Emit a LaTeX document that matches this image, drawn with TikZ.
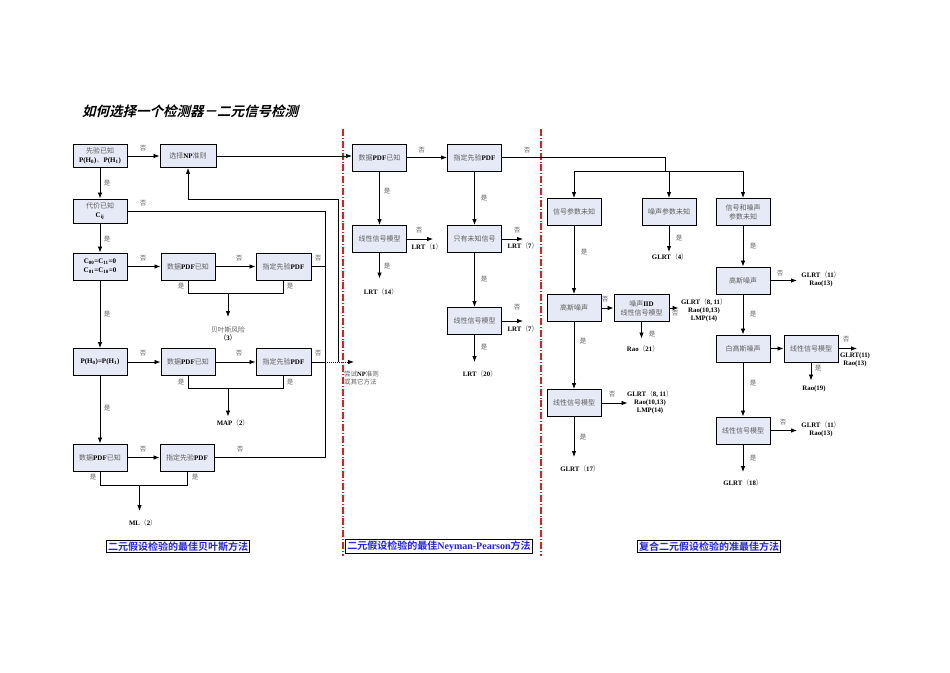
\documentclass[tikz,border=0pt]{standalone}
\usepackage{fontspec}
\setmainfont{Noto Sans CJK SC}[BoldFont={Noto Sans CJK SC Bold}]
\newfontfamily\lat{Liberation Serif}
\newfontfamily\ttlfont{Noto Sans CJK SC Bold}[FakeSlant=0.25]
\usetikzlibrary{arrows.meta}
\definecolor{boxfill}{RGB}{230,234,246}
\definecolor{txtgray}{RGB}{95,95,95}
\definecolor{lblue}{RGB}{35,35,225}
\definecolor{divred}{RGB}{225,30,30}
\newcommand\B[1]{{\lat\bfseries\color{black}#1}}
\newcommand\BL[1]{{\lat\bfseries #1}}
\begin{document}
\begin{tikzpicture}[x=1pt,y=-1pt,
 box/.style={draw=black, line width=0.9pt, fill=boxfill, minimum width=54pt, minimum height=27pt, inner sep=0pt, align=center, font=\fontsize{7}{9}\selectfont, text=txtgray},
 yn/.style={font=\fontsize{6.5}{7.5}\selectfont, text=txtgray, inner sep=0pt},
 res/.style={font=\fontsize{6.8}{8}\selectfont, inner sep=0pt, align=center},
 ln/.style={line width=0.8pt, draw=black},
 arr/.style={ln, -{Latex[length=6pt,width=4.5pt]}},
 divider/.style={draw=divred, line width=1.2pt, dash pattern=on 7pt off 2pt on 0.8pt off 2pt},
 method/.style={draw=black, line width=0.8pt, inner sep=1.5pt, text=lblue, font=\fontsize{10}{11}\selectfont\bfseries}
]
\fill[white] (0,0) rectangle (950,672);
\useasboundingbox (0,0) rectangle (950,672);

% title
\node[anchor=west, inner sep=0pt, font=\ttlfont\fontsize{13.5}{15}\selectfont] (title) at (82,111) {如何选择一个检测器－二元信号检测};

% dividers
\draw[divider] (343,129) -- (343,556);
\draw[divider] (541,129) -- (541,556);

% ---------------- left column ----------------
\node[box, minimum height=23pt] (pri) at (100,156) {先验已知\\\B{P(H\textsubscript{0})}、\B{P(H\textsubscript{1})}};
\node[box, minimum width=56pt, minimum height=23pt] (np) at (188,156) {选择\B{NP}准则};
\node[box, minimum height=24pt] (cost) at (100,211) {代价已知\\\B{C\textsubscript{ij}}};
\node[box] (c00) at (100,266.5) {\B{C\textsubscript{00}=C\textsubscript{11}=0}\\\B{C\textsubscript{01}=C\textsubscript{10}=0}};
\node[box] (pdf1) at (188,266.5) {数据\B{PDF}已知};
\node[box, minimum width=55pt] (spec1) at (283.5,266.5) {指定先验\B{PDF}};
\node[box] (eq) at (100,362) {\B{P(H\textsubscript{0})=P(H\textsubscript{1})}};
\node[box] (pdf2) at (188,362) {数据\B{PDF}已知};
\node[box, minimum width=55pt] (spec2) at (283.5,362) {指定先验\B{PDF}};
\node[box] (pdf3) at (100,457.5) {数据\B{PDF}已知};
\node[box] (spec3) at (187,457.5) {指定先验\B{PDF}};

\node[res] (bayes) at (228,333.5) {\color{txtgray}贝叶斯风险\\（\B{3}）};
\node[res] (map) at (233,422.7) {\B{MAP}\color{txtgray}（\B{2}）};
\node[res] (ml) at (143,523) {\B{ML}\color{txtgray}（\B{2}）};
\node[res, align=left, anchor=north west, text=txtgray, font=\fontsize{6.5}{8}\selectfont] (try) at (344,371) {尝试\B{NP}准则\\或其它方法};

\coordinate (bT) at (325,211);
\coordinate (bB) at (325,457.5);
\coordinate (r2a) at (325,362);
\coordinate (r2b) at (338,362);
\coordinate (up1) at (338,199);
\coordinate (up2) at (188,199);
\coordinate (tryNP) at (354,362);
\coordinate (j1) at (228,292.5);
\coordinate (j1e) at (228,317);
\coordinate (j2) at (228,388);
\coordinate (j2e) at (228,416.5);
\coordinate (j3) at (139.5,485);
\coordinate (j3e) at (139.5,511);

\draw[arr] (pri.east) -- (np.west);
\draw[arr] (np.east) -- (np.east -| 352,0);
\draw[arr] (pri.south) -- (cost.north);
\draw[ln] (cost.east) -- (bT) -- (bB);
\draw[ln] (spec1.east) -- (spec1.east -| bT);
\draw[ln] (spec3.east) -- (bB);
\draw[ln] (spec2.east) -- (r2a);
\draw[ln, dash pattern=on 1pt off 1pt, -{Latex[length=6pt,width=4.5pt]}] (r2a) -- (tryNP);
\draw[ln] (r2b) -- (up1) -- (up2);
\draw[arr] (up2) -- (np.south);

\draw[arr] (cost.south) -- (c00.north);
\draw[arr] (c00.east) -- (pdf1.west);
\draw[arr] (pdf1.east) -- (spec1.west);
\draw[ln] (pdf1.south) -- ++(0,12.5) -| (spec1.south);
\draw[arr] (j1) -- (j1e);

\draw[arr] (c00.south) -- (eq.north);
\draw[arr] (eq.east) -- (pdf2.west);
\draw[arr] (pdf2.east) -- (spec2.west);
\draw[ln] (pdf2.south) -- ++(0,12.5) -| (spec2.south);
\draw[arr] (j2) -- (j2e);

\draw[arr] (eq.south) -- (pdf3.north);
\draw[arr] (pdf3.east) -- (spec3.west);
\draw[ln] (pdf3.south) -- ++(0,14) -| (spec3.south);
\draw[arr] (j3) -- (j3e);

% yes/no labels left
\node[yn] at (143,148) {否};
\node[yn] at (107,183) {是};
\node[yn] at (143,203) {否};
\node[yn] at (107,239) {是};
\node[yn] at (143,258) {否};
\node[yn] at (239,258) {否};
\node[yn] at (318,258) {否};
\node[yn] at (181,286) {是};
\node[yn] at (290,286) {是};
\node[yn] at (107,314) {是};
\node[yn] at (143,353) {否};
\node[yn] at (239,353) {否};
\node[yn] at (318,353) {否};
\node[yn] at (181,382) {是};
\node[yn] at (290,382) {是};
\node[yn] at (107,408) {是};
\node[yn] at (143,449) {否};
\node[yn] at (240,449) {否};
\node[yn] at (93,477) {是};
\node[yn] at (195,477) {是};

% ---------------- middle column ----------------
\node[box] (pdfm) at (379.5,157.5) {数据\B{PDF}已知};
\node[box] (specm) at (474.5,157.5) {指定先验\B{PDF}};
\node[box] (linm) at (379.5,239) {线性信号模型};
\node[box] (onlym) at (474.5,239) {只有未知信号};
\node[box] (lin2m) at (474.5,321) {线性信号模型};

\coordinate (e1) at (433,239);
\coordinate (e2) at (379.5,278.5);
\coordinate (e3) at (523,239);
\coordinate (e4) at (523,321);
\coordinate (e5) at (474.5,362);

\draw[arr] (pdfm.east) -- (specm.west);
\draw[arr] (pdfm.south) -- (linm.north);
\draw[arr] (linm.east) -- (e1);
\draw[arr] (linm.south) -- (e2);
\draw[arr] (specm.south) -- (onlym.north);
\draw[arr] (onlym.east) -- (e3);
\draw[arr] (onlym.south) -- (lin2m.north);
\draw[arr] (lin2m.east) -- (e4);
\draw[arr] (lin2m.south) -- (e5);

\node[res] (lrt1) at (427,247) {\B{LRT}\color{txtgray}（\B{1}）};
\node[res] (lrt14) at (381,292) {\B{LRT}\color{txtgray}（\B{14}）};
\node[res] (lrt7a) at (523,246) {\B{LRT}\color{txtgray}（\B{7}）};
\node[res] (lrt7b) at (523,328.5) {\B{LRT}\color{txtgray}（\B{7}）};
\node[res] (lrt20) at (480,374) {\B{LRT}\color{txtgray}（\B{20}）};

\node[yn] at (421.7,150) {否};
\node[yn] at (527,150) {否};
\node[yn] at (387,191) {是};
\node[yn] at (419,230) {否};
\node[yn] at (387,266) {是};
\node[yn] at (484,198) {是};
\node[yn] at (517,230) {否};
\node[yn] at (484,279) {是};
\node[yn] at (517,307) {否};
\node[yn] at (484,347) {是};

% ---------------- right column ----------------
\node[box] (sigu) at (574,212) {信号参数未知};
\node[box] (noiseu) at (669,212) {噪声参数未知};
\node[box] (bothu) at (743,212) {信号和噪声\\参数未知};
\node[box] (gaussR) at (743,280.5) {高斯噪声};
\node[box] (gaussL) at (574,308) {高斯噪声};
\node[box, minimum width=55pt] (iid) at (641.5,308) {噪声\B{IID}\\线性信号模型};
\node[box] (linL) at (574,403) {线性信号模型};
\node[box] (whiteR) at (743,348.5) {白高斯噪声};
\node[box] (linR2) at (811,348.5) {线性信号模型};
\node[box] (linR) at (743,430.5) {线性信号模型};

\coordinate (drop) at (665,171);
\coordinate (busL) at (574,171);
\coordinate (busM) at (669,171);
\coordinate (busR) at (743,171);
\coordinate (f1) at (669,252);
\coordinate (f2) at (797,280.5);
\coordinate (f3) at (678.5,308);
\coordinate (f4) at (641.5,338.5);
\coordinate (f5) at (627.5,403);
\coordinate (f6) at (574,457);
\coordinate (f7) at (857,348.5);
\coordinate (f8) at (811,380.5);
\coordinate (f9) at (797,430.5);
\coordinate (f10) at (743,472);

\draw[ln] (specm.east) -| (drop);
\draw[ln] (busL) -- (busR);
\draw[arr] (busL) -- (sigu.north);
\draw[arr] (busM) -- (noiseu.north);
\draw[arr] (busR) -- (bothu.north);
\draw[arr] (noiseu.south) -- (f1);
\draw[arr] (bothu.south) -- (gaussR.north);
\draw[arr] (gaussR.east) -- (f2);
\draw[arr] (sigu.south) -- (gaussL.north);
\draw[arr] (gaussL.east) -- (iid.west);
\draw[arr] (iid.east) -- (f3);
\draw[arr] (iid.south) -- (f4);
\draw[arr] (gaussL.south) -- (linL.north);
\draw[arr] (linL.east) -- (f5);
\draw[arr] (linL.south) -- (f6);
\draw[arr] (gaussR.south) -- (whiteR.north);
\draw[arr] (whiteR.east) -- (linR2.west);
\draw[arr] (linR2.east) -- (f7);
\draw[arr] (linR2.south) -- (f8);
\draw[arr] (whiteR.south) -- (linR.north);
\draw[arr] (linR.east) -- (f9);
\draw[arr] (linR.south) -- (f10);

\node[res] (g4) at (670,257) {\B{GLRT}\color{txtgray}（\B{4}）};
\node[res] (g11a) at (821,279) {\B{GLRT}\color{txtgray}（\B{11}）\\\B{Rao(13)}};
\node[res] (g811a) at (704,310) {\B{GLRT}\color{txtgray}（\B{8, 11}）\\\B{Rao(10,13)}\\\B{LMP(14)}};
\node[res] (r21) at (643,348.5) {\B{Rao}\color{txtgray}（\B{21}）};
\node[res] (g811b) at (650,402) {\B{GLRT}\color{txtgray}（\B{8, 11}）\\\B{Rao(10,13)}\\\B{LMP(14)}};
\node[res] (g17) at (580,469) {\B{GLRT}\color{txtgray}（\B{17}）};
\node[res] (g11b) at (855,360) {\B{GLRT(11)}\\\B{Rao(13)}};
\node[res] (r19) at (814,388.5) {\B{Rao(19)}};
\node[res] (g11c) at (821,429) {\B{GLRT}\color{txtgray}（\B{11}）\\\B{Rao(13)}};
\node[res] (g18) at (743,483) {\B{GLRT}\color{txtgray}（\B{18}）};

\node[yn] at (679,238) {是};
\node[yn] at (753,246) {是};
\node[yn] at (780,273) {否};
\node[yn] at (584,252) {是};
\node[yn] at (605,299) {否};
\node[yn] at (675,313) {否};
\node[yn] at (652,334) {是};
\node[yn] at (583,341) {是};
\node[yn] at (612,394) {否};
\node[yn] at (583,437) {是};
\node[yn] at (753,314) {是};
\node[yn] at (846,339) {否};
\node[yn] at (818,368) {是};
\node[yn] at (753,383) {是};
\node[yn] at (783,422) {否};
\node[yn] at (753,458) {是};

% ---------------- method labels ----------------
\node[method] (m1) at (178,546.5) {二元假设检验的最佳贝叶斯方法};
\node[method] (m2) at (439,546.5) {二元假设检验的最佳\BL{Neyman-Pearson}方法};
\node[method] (m3) at (709,546.5) {复合二元假设检验的准最佳方法};
\end{tikzpicture}
\end{document}
